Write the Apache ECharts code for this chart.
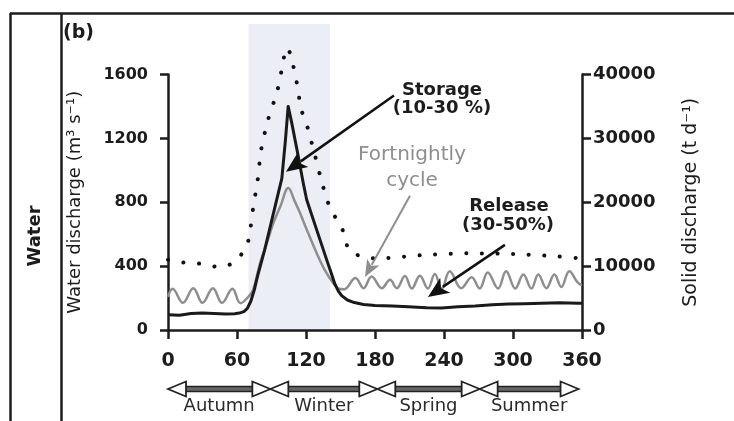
<!DOCTYPE html>
<html><head><meta charset="utf-8">
<script src="https://cdn.jsdelivr.net/npm/echarts@6/dist/echarts.min.js"></script>
<style>html,body{margin:0;padding:0;background:#fff}#c{width:734px;height:421px}</style>
</head><body><div id="c"></div>
<script>
// ---- data ----
const xTicks = [0, 60, 120, 180, 240, 300, 360];
const leftTicks = [0, 400, 800, 1200, 1600];
const rightTicks = [0, 10000, 20000, 30000, 40000];

// black solid line (water discharge, m3 s-1)
const blackDays   = [0, 10, 20, 30, 40, 50, 58, 62, 66, 69, 72, 75, 78, 84, 90, 96, 99, 102, 104.5, 107.6, 113.3, 117.6, 120.6, 129.3, 138, 142, 145, 148, 151, 156, 162, 170, 180, 195, 209, 225, 238, 252, 267, 282, 296, 310, 325, 340, 357, 360];
const blackValues = [95, 93, 103, 107, 104, 100, 102, 106, 115, 135, 180, 250, 340, 500, 680, 860, 950, 1180, 1400, 1297, 1087, 920, 816, 627, 439, 355, 290, 245, 215, 188, 172, 160, 153, 150, 146, 140, 138, 145, 150, 158, 163, 165, 167, 170, 167, 168];

// grey line with fortnightly cycle (water discharge, m3 s-1)
const greyDays   = [0, 4, 13, 22, 30, 39, 47, 56, 63, 70, 74, 80, 86, 91.6, 98, 104.6, 110, 114.8, 122, 129.3, 136, 143.7, 148, 153, 163, 170, 177, 186, 193, 199, 206, 212, 219, 226, 232, 238, 245, 255, 264, 271, 278, 287, 294, 302, 309, 316, 322, 329, 336, 342, 349, 356, 360];
const greyValues = [207, 258, 170, 262, 170, 262, 170, 258, 168, 209, 251, 418, 545, 669, 780, 889, 810, 732, 605, 481, 380, 293, 260, 255, 326, 262, 335, 262, 314, 262, 338, 260, 340, 260, 350, 258, 368, 262, 330, 260, 360, 260, 368, 260, 348, 260, 348, 262, 348, 270, 368, 300, 280];

// dotted line (solid discharge, t d-1)
const dotDays   = [0, 8, 20, 30, 43, 57, 65.5, 70, 74, 78, 81, 87, 95, 100, 103, 106, 109, 112, 116, 121, 128, 134, 138, 142, 150, 154, 158, 170, 181, 220, 260, 300, 340, 360];
const dotValues = [11000, 10700, 10450, 10350, 9900, 10500, 12300, 14100, 19100, 23500, 28200, 32900, 37400, 41800, 44200, 43400, 41300, 38700, 34500, 31900, 27200, 23000, 20600, 18600, 16500, 14400, 12300, 11500, 11200, 11700, 12000, 11900, 11500, 11200];

// seasons (days)
const seasonNames = ['Autumn', 'Winter', 'Spring', 'Summer'];
const seasonStart = [0, 89, 182, 271];
const seasonEnd   = [89, 182, 271, 357];

// shaded winter flood period (days)
const shadeStart = 70, shadeEnd = 141;

// annotation arrows [fromDay, fromValue(left axis), toDay, toValue(left axis)]
const storageArrow = [196.5, 1468, 102.6, 991];
const cycleArrow   = [210.4, 841, 171.3, 332];
const releaseArrow = [293, 533, 226, 207];

// ---- chart ----
const FONT = 'DejaVu Sans';
const INK = '#1c1c1c';
const chart = echarts.init(document.getElementById('c'), null, {renderer: 'canvas'});
const pairs = (d, v) => d.map((x, i) => [x, v[i]]);
const plain = v => String(v);

chart.setOption({
  animation: false,
  backgroundColor: '#ffffff',
  grid: {left: 168, right: 152, top: 74.5, bottom: 91, containLabel: false},
  xAxis: {
    type: 'value', min: xTicks[0], max: xTicks[xTicks.length - 1], interval: 60,
    axisLine: {lineStyle: {color: INK, width: 2.5}},
    axisTick: {length: 9, lineStyle: {color: INK, width: 2.5}},
    axisLabel: {color: INK, fontFamily: FONT, fontWeight: 'bold', fontSize: 19, margin: 22, formatter: plain},
    splitLine: {show: false}
  },
  yAxis: [{
    type: 'value', position: 'left', min: 0, max: leftTicks[leftTicks.length - 1], interval: 400,
    name: 'Water discharge (m³ s⁻¹)', nameLocation: 'middle', nameGap: 84,
    nameTextStyle: {color: INK, fontFamily: FONT, fontSize: 18},
    axisLine: {show: true, lineStyle: {color: INK, width: 2.5}},
    axisTick: {show: true, length: 8, lineStyle: {color: INK, width: 2.5}},
    axisLabel: {color: INK, fontFamily: FONT, fontWeight: 'bold', fontSize: 16, margin: 20, formatter: plain},
    splitLine: {show: false}
  }, {
    type: 'value', position: 'right', min: 0, max: rightTicks[rightTicks.length - 1], interval: 10000,
    name: 'Solid discharge (t d⁻¹)', nameLocation: 'middle', nameGap: 100,
    nameTextStyle: {color: INK, fontFamily: FONT, fontSize: 19},
    axisLine: {show: true, lineStyle: {color: INK, width: 2.5}},
    axisTick: {show: true, length: 9, lineStyle: {color: INK, width: 2.5}},
    axisLabel: {color: INK, fontFamily: FONT, fontWeight: 'bold', fontSize: 18, margin: 11, formatter: plain},
    splitLine: {show: false}
  }],
  series: [{
    name: 'Solid discharge', type: 'line', yAxisIndex: 1, clip: false,
    data: pairs(dotDays, dotValues), showSymbol: false, smooth: 0.3,
    lineStyle: {color: '#111', width: 4, type: [0.1, 15.5], cap: 'round'}, z: 3
  }, {
    name: 'Fortnightly', type: 'line', yAxisIndex: 0,
    data: pairs(greyDays, greyValues), showSymbol: false, smooth: 0.4,
    lineStyle: {color: '#8e8e8e', width: 2.5}, z: 4
  }, {
    name: 'Water discharge', type: 'line', yAxisIndex: 0,
    data: pairs(blackDays, blackValues), showSymbol: false, smooth: false,
    lineStyle: {color: '#1a1a1a', width: 3, join: 'round'}, z: 5
  }]
});

// ---- decorations placed from data coordinates ----
const px = (d, v, yi) => chart.convertToPixel({xAxisIndex: 0, yAxisIndex: yi || 0}, [d, v]);
const g = [];

// shaded band
const b0 = px(shadeStart, 0), b1 = px(shadeEnd, 0);
g.push({type: 'rect', z: 0, silent: true, shape: {x: b0[0], y: 24, width: b1[0] - b0[0], height: b0[1] - 24}, style: {fill: '#eceef5'}});

// frame
g.push({type: 'line', z: 10, shape: {x1: 10, y1: 13.5, x2: 734, y2: 13.5}, style: {stroke: INK, lineWidth: 2.5}});
g.push({type: 'line', z: 10, shape: {x1: 10.5, y1: 13, x2: 10.5, y2: 421}, style: {stroke: INK, lineWidth: 2.5}});
g.push({type: 'line', z: 10, shape: {x1: 61.5, y1: 13, x2: 61.5, y2: 421}, style: {stroke: INK, lineWidth: 2.5}});
g.push({type: 'text', z: 10, x: 35, y: 236, rotation: Math.PI / 2, style: {text: 'Water', fill: INK, font: 'bold 18px "DejaVu Sans"', align: 'center', verticalAlign: 'middle'}});
g.push({type: 'text', z: 10, x: 63, y: 33, style: {text: '(b)', fill: INK, font: 'bold 19px "DejaVu Sans"', align: 'left', verticalAlign: 'middle'}});

// arrows
function arrow(a, color, lw, hl, hw) {
  const p0 = px(a[0], a[1]), p1 = px(a[2], a[3]);
  const dx = p1[0] - p0[0], dy = p1[1] - p0[1], L = Math.hypot(dx, dy);
  const ux = dx / L, uy = dy / L, nx = -uy, ny = ux;
  const bx = p1[0] - ux * hl, by = p1[1] - uy * hl;
  g.push({type: 'line', z: 20, shape: {x1: p0[0], y1: p0[1], x2: bx + ux * 3, y2: by + uy * 3}, style: {stroke: color, lineWidth: lw}});
  g.push({type: 'polygon', z: 20, shape: {points: [[p1[0], p1[1]], [bx + nx * hw, by + ny * hw], [bx + ux * hl * 0.25, by + uy * hl * 0.25], [bx - nx * hw, by - ny * hw]]}, style: {fill: color}});
}
arrow(storageArrow, '#111', 2.5, 21, 9);
arrow(cycleArrow, '#8e8e8e', 2, 17, 7);
arrow(releaseArrow, '#111', 2.5, 21, 9);

// annotation texts
const txt = (t, x, y, font, fill) => g.push({type: 'text', z: 20, x: x, y: y, style: {text: t, fill: fill || INK, font: font, align: 'center', verticalAlign: 'middle'}});
txt('Storage', 442, 90, 'bold 18px "DejaVu Sans"');
txt('(10-30 %)', 442, 108, 'bold 18px "DejaVu Sans"');
txt('Fortnightly', 412, 155, '20px "DejaVu Sans"', '#8e8e8e');
txt('cycle', 412, 181, '20px "DejaVu Sans"', '#8e8e8e');
txt('Release', 509, 206, 'bold 18px "DejaVu Sans"');
txt('(30-50%)', 508, 225, 'bold 18px "DejaVu Sans"');

// season double arrows
const sy = 389;
seasonNames.forEach((name, i) => {
  const x0 = px(seasonStart[i], 0)[0], x1 = px(seasonEnd[i], 0)[0];
  const hl = 18, hw = 7.5;
  g.push({type: 'rect', z: 20, shape: {x: x0 + hl - 1, y: sy - 2.5, width: x1 - x0 - 2 * hl + 2, height: 5}, style: {fill: '#666', stroke: '#222', lineWidth: 1.3}});
  g.push({type: 'polygon', z: 21, shape: {points: [[x0, sy], [x0 + hl, sy - hw], [x0 + hl, sy + hw]]}, style: {fill: '#fff', stroke: '#222', lineWidth: 1.8}});
  g.push({type: 'polygon', z: 21, shape: {points: [[x1, sy], [x1 - hl, sy - hw], [x1 - hl, sy + hw]]}, style: {fill: '#fff', stroke: '#222', lineWidth: 1.8}});
  txt(name, (x0 + x1) / 2, 406, '18px "DejaVu Sans"', '#2a2a2a');
});

chart.setOption({graphic: g});
</script></body></html>
